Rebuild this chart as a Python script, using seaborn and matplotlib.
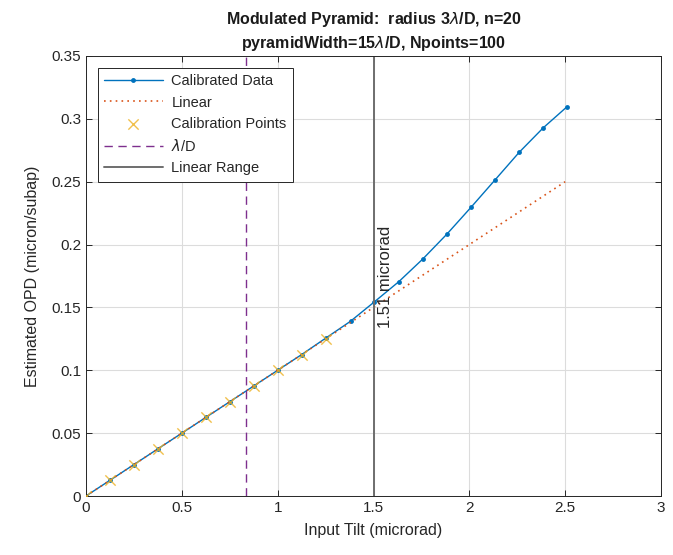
import numpy as np
import pandas as pd
import seaborn as sns
import matplotlib.pyplot as plt

# --- Datos ---
tilt_cal = [0, 0.125, 0.25, 0.375, 0.5, 0.625, 0.75, 0.875, 1.0, 1.125, 1.25,
            1.38, 1.505, 1.632, 1.757, 1.884, 2.009, 2.135, 2.26, 2.385, 2.51]
opd_cal = [0, 0.0125, 0.025, 0.0375, 0.05, 0.0625, 0.075, 0.0875, 0.1, 0.1125, 0.1255,
           0.139, 0.1545, 0.1705, 0.1885, 0.2085, 0.2297, 0.2516, 0.2734, 0.2928, 0.3097]
tilt_lin = [0, 2.5]
opd_lin = [0, 0.25]
tilt_pts = [0, 0.125, 0.25, 0.375, 0.5, 0.625, 0.75, 0.875, 1.0, 1.125, 1.25]
opd_pts = [0, 0.0125, 0.025, 0.0375, 0.05, 0.0625, 0.075, 0.0875, 0.1, 0.1125, 0.125]
lambda_d = 0.835
linear_range = 1.5
xticks = [0, 0.5, 1, 1.5, 2, 2.5, 3]
yticks = [0, 0.05, 0.1, 0.15, 0.2, 0.25, 0.3, 0.35]

df_cal = pd.DataFrame({"tilt": tilt_cal, "opd": opd_cal})
df_lin = pd.DataFrame({"tilt": tilt_lin, "opd": opd_lin})
df_pts = pd.DataFrame({"tilt": tilt_pts, "opd": opd_pts})

# --- Estilo ---
sns.set_theme(style="ticks")
plt.rcParams["font.family"] = ["Liberation Sans", "DejaVu Sans"]
plt.rcParams["mathtext.fontset"] = "dejavusans"
axcol = "#262626"

fig = plt.figure(figsize=(6.73, 5.55), dpi=100)
ax = fig.add_axes([0.1278, 0.1063, 0.8544, 0.7928])

sns.lineplot(data=df_cal, x="tilt", y="opd", ax=ax, color="#0072BD", lw=1.0,
             marker="o", markersize=3.5, markeredgewidth=0, label="Calibrated Data")
sns.lineplot(data=df_lin, x="tilt", y="opd", ax=ax, color="#D95319", lw=1.2,
             linestyle=(0, (1, 2.5)), label="Linear")
sns.scatterplot(data=df_pts, x="tilt", y="opd", ax=ax, color="#EDB120", marker="x",
                s=55, linewidth=1.0, alpha=0.8, label="Calibration Points", zorder=3)
ax.axvline(lambda_d, color="#7E2F8E", lw=1.0, linestyle=(0, (6, 4)), label=r"$\lambda$/D")
ax.axvline(linear_range, color="#6e6e6e", lw=1.4, label="Linear Range")
ax.text(linear_range + 0.025, 0.134, "1.51 microrad", rotation=90, ha="left", va="bottom",
        fontsize=12, color="#262626")

# --- Ejes ---
ax.set_xlim(0, 3)
ax.set_ylim(0, 0.35)
ax.set_xticks(xticks)
ax.set_xticklabels(["0", "0.5", "1", "1.5", "2", "2.5", "3"])
ax.set_yticks(yticks)
ax.set_yticklabels(["0", "0.05", "0.1", "0.15", "0.2", "0.25", "0.3", "0.35"])
ax.grid(True, color="#dcdcdc", lw=0.8)
ax.set_axisbelow(True)
ax.tick_params(direction="in", top=True, right=True, length=4, width=0.7,
               colors=axcol, labelsize=11, labelcolor=axcol)
for sp in ax.spines.values():
    sp.set_visible(True)
    sp.set_color(axcol)
    sp.set_linewidth(0.7)

ax.set_xlabel("Input Tilt (microrad)", fontsize=11.5, color=axcol, labelpad=6)
ax.set_ylabel("Estimated OPD (micron/subap)", fontsize=11.5, color=axcol, labelpad=8)
ax.set_title("Modulated Pyramid:  radius 3$\\lambda$/D, n=20\npyramidWidth=15$\\lambda$/D, Npoints=100",
             fontsize=11.5, fontweight="bold", color="#1a1a1a", pad=6, linespacing=1.3)

leg = ax.legend(loc="upper left", fontsize=10.5, frameon=True, fancybox=False,
                edgecolor=axcol, framealpha=1, borderpad=0.45, labelspacing=0.5,
                handlelength=4.0, handletextpad=0.6, borderaxespad=0.8)
leg.get_frame().set_linewidth(0.7)

fig.savefig("out.png", dpi=100)
